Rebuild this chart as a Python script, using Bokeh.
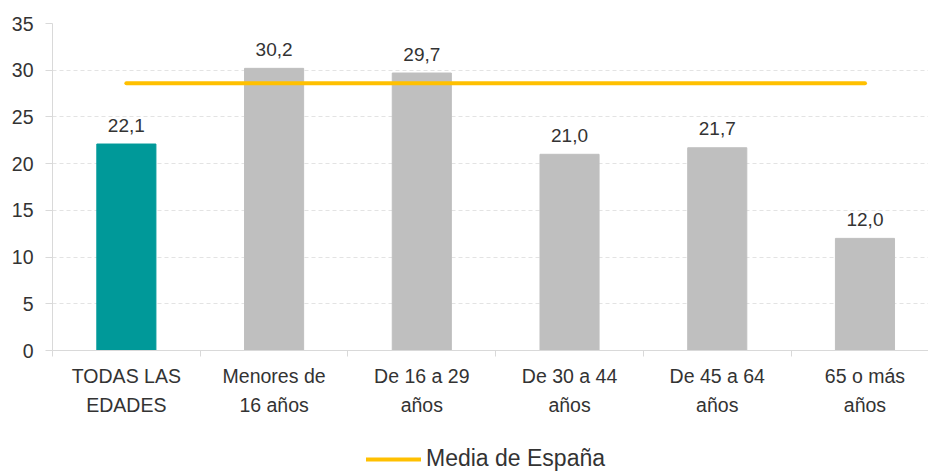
from bokeh.plotting import figure
from bokeh.layouts import column
from bokeh.models import Range1d, FixedTicker, Legend, LegendItem, ColumnDataSource
from bokeh.core.properties import value
from bokeh.embed import file_html
from bokeh.resources import INLINE

categories = ["TODAS LAS\nEDADES", "Menores de\n16 años", "De 16 a 29\naños",
              "De 30 a 44\naños", "De 45 a 64\naños", "65 o más\naños"]
values = [22.1, 30.2, 29.7, 21.0, 21.7, 12.0]
media_espana = 28.6
media_label = "Media de España"
y_ticks = [0, 5, 10, 15, 20, 25, 30, 35]

TEAL = "#009999"
GRAY = "#BFBFBF"
GOLD = "#FFC000"
TXT = "#333333"
FONT = "Liberation Sans"

xs = list(range(len(categories)))
colors = [TEAL] + [GRAY] * (len(categories) - 1)
labels = [f"{v:.1f}".replace(".", ",") for v in values]

src = ColumnDataSource(dict(x=xs, top=values, color=colors, label=labels))

p = figure(width=928, height=438, output_backend="svg", toolbar_location=None,
           x_range=Range1d(-0.5, len(categories) - 0.57), y_range=Range1d(0, 35),
           min_border_left=52, min_border_right=0, min_border_top=23, min_border_bottom=88)
p.outline_line_color = None
p.background_fill_color = "white"
p.border_fill_color = "white"

p.vbar(x="x", top="top", width=0.4, color="color", source=src)
p.text(x="x", y="top", text="label", source=src, text_align="center",
       text_baseline="alphabetic", y_offset=-19, text_font=value(FONT),
       text_font_size="19px", text_color=TXT)

p.line(x=[xs[0], xs[-1]], y=[media_espana, media_espana], line_color=GOLD,
       line_width=4, line_cap="round")

# y axis
p.yaxis.ticker = FixedTicker(ticks=y_ticks)
p.yaxis.axis_line_color = "#D9D9D9"
p.yaxis.major_tick_line_color = "#D9D9D9"
p.yaxis.major_tick_out = 7
p.yaxis.major_tick_in = 0
p.yaxis.minor_tick_line_color = None
p.yaxis.major_label_standoff = 12
p.yaxis.major_label_text_font = FONT
p.yaxis.major_label_text_font_size = "19.5px"
p.yaxis.major_label_text_color = TXT

# x axis
p.xaxis.ticker = FixedTicker(ticks=xs, minor_ticks=[i - 0.5 for i in range(len(categories) + 1)])
p.xaxis.major_label_overrides = {i: c for i, c in zip(xs, categories)}
p.xaxis.axis_line_color = "#D9D9D9"
p.xaxis.major_tick_line_color = None
p.xaxis.major_tick_out = 0
p.xaxis.major_tick_in = 0
p.xaxis.minor_tick_line_color = "#D9D9D9"
p.xaxis.minor_tick_out = 6
p.xaxis.minor_tick_in = 0
p.xaxis.major_label_standoff = 8
p.xaxis.major_label_text_font = FONT
p.xaxis.major_label_text_font_size = "19.5px"
p.xaxis.major_label_text_color = TXT
p.xaxis.major_label_text_line_height = 1.32

p.xgrid.grid_line_color = None
p.ygrid.ticker = FixedTicker(ticks=y_ticks)
p.ygrid.grid_line_color = "#E3E3E3"
p.ygrid.grid_line_dash = "4 3"

# legend strip
lg = figure(width=928, height=34, output_backend="svg", toolbar_location=None,
            x_range=Range1d(0, 1), y_range=Range1d(0, 1),
            x_axis_location=None, y_axis_location=None,
            min_border_left=0, min_border_right=0, min_border_top=0, min_border_bottom=0)
lg.outline_line_color = None
lg.grid.visible = False
lg.border_fill_color = "white"
leg_line = lg.line(x=[xs[0], xs[-1]], y=[media_espana, media_espana], line_color=GOLD,
                   line_width=4, line_cap="round", visible=False)
legend = Legend(items=[LegendItem(label=media_label, renderers=[leg_line])],
                location=(314, 0), orientation="horizontal",
                border_line_color=None, background_fill_alpha=0,
                padding=0, margin=0, glyph_width=55, glyph_height=22, label_height=22,
                label_standoff=5, label_text_font=FONT, label_text_font_size="23px",
                label_text_color=TXT)
lg.add_layout(legend, "center")

layout = column(p, lg, spacing=0)
open("out.html", "w").write(file_html(layout, INLINE))
